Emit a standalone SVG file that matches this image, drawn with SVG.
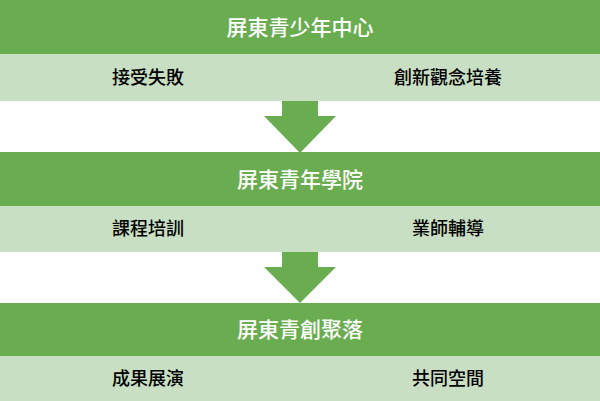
<svg xmlns="http://www.w3.org/2000/svg" width="600" height="401" viewBox="0 0 600 401">
<style>
.h{fill:#6aad51}.l{fill:#c9dfc3}.ar{fill:#6aad51}
.ht{fill:#fff;font:500 21px "Noto Sans CJK TC",sans-serif;text-anchor:middle}
.lt{fill:#000;font:500 18px "Noto Sans CJK TC",sans-serif;text-anchor:middle}
</style>
<rect width="600" height="401" fill="#fff"/>
<g id="n1"><rect class="h" x="0" y="0" width="600" height="54"/><text class="ht" x="300" y="35">屏東青少年中心</text></g>
<g id="n1a"><rect class="l" x="0" y="54" width="600" height="47"/><text class="lt" x="148" y="84">接受失敗</text><text class="lt" x="448" y="84">創新觀念培養</text></g>
<g id="n2"><rect class="h" x="0" y="152" width="600" height="54"/><text class="ht" x="300" y="187">屏東青年學院</text></g>
<g id="n2a"><rect class="l" x="0" y="206" width="600" height="46"/><text class="lt" x="148" y="235">課程培訓</text><text class="lt" x="448" y="235">業師輔導</text></g>
<g id="n3"><rect class="h" x="0" y="303" width="600" height="53"/><text class="ht" x="300" y="337">屏東青創聚落</text></g>
<g id="n3a"><rect class="l" x="0" y="356" width="600" height="45"/><text class="lt" x="148" y="385">成果展演</text><text class="lt" x="448" y="385">共同空間</text></g>
<g id="connectors">
<path class="ar" d="M282 101H318V116H336L300 153L264 116H282Z"/>
<path class="ar" d="M282 252H318V267H336L300 303L264 267H282Z"/>
</g>
</svg>
